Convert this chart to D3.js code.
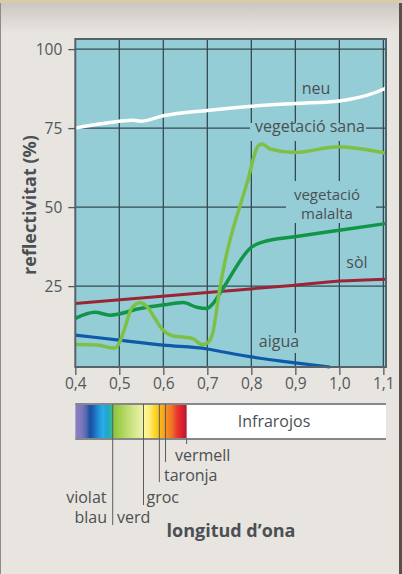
<!DOCTYPE html>
<html>
<head>
	<meta charset="utf-8">
	<title></title>
	<style type="text/css">
		body {
			margin: 0;
			background: #e8e4df;
		}
		svg {
			display: block;
			font-family: "Open Sans", sans-serif;
		}
		.txt {
			fill: #4a5053;
			font-size: 16px;
		}
	</style>
</head>
<body>
	<svg class="viz" width="402" height="574"></svg>

	<script src="https://d3js.org/d3.v7.min.js" charset="utf-8"></script>
	<script type="text/javascript">

		// data: [longitud d'ona (µm), reflectivitat (%)]
		var xTicks = [0.4, 0.5, 0.6, 0.7, 0.8, 0.9, 1.0, 1.1];
		var yTicks = [25, 50, 75, 100];

		var neu = [[0.4, 75], [0.45, 76.2], [0.5, 77.2], [0.53, 77.5], [0.55, 77.2], [0.6, 78.9], [0.7, 80.6],
			[0.8, 81.9], [0.9, 82.8], [1.0, 83.6], [1.015, 83.9], [1.1, 87.3], [1.106, 87.7]];
		var vegetacioSana = [[0.4, 6.5], [0.45, 6.4], [0.48, 5.5], [0.49, 5.4], [0.5, 7], [0.512, 11.5], [0.528, 18],
			[0.547, 19.7], [0.566, 18], [0.58, 15], [0.596, 11.6], [0.623, 9.2], [0.649, 8.8], [0.668, 8.3],
			[0.688, 6.5], [0.7, 7], [0.712, 10], [0.729, 24.8], [0.792, 58.5], [0.815, 69.3], [0.824, 70],
			[0.843, 68.4], [0.898, 67.3], [0.998, 69.1], [1.106, 67]];
		var vegetacioMalalta = [[0.4, 14.8], [0.445, 16.7], [0.479, 15.8], [0.547, 17.9], [0.598, 19], [0.645, 19.8],
			[0.676, 18.3], [0.699, 17.9], [0.71, 19], [0.733, 23.7], [0.801, 37.4], [0.827, 39], [0.898, 40.6],
			[1.0, 42.7], [1.106, 44.8]];
		var sol = [[0.4, 19.5], [0.7, 23], [0.9, 25.3], [1.0, 26.6], [1.106, 27.2]];
		var aigua = [[0.4, 9.5], [0.5, 7.9], [0.6, 6.3], [0.7, 5.1], [0.73, 4.3], [0.8, 2.6], [0.9, 0.7], [0.979, -0.6]];

		// visible spectrum band
		var spectrumWavelengths = [0.401, 0.415, 0.426, 0.433, 0.44, 0.452, 0.463, 0.47, 0.479, 0.483, 0.488, 0.501,
			0.531, 0.554, 0.556, 0.57, 0.583, 0.592, 0.604, 0.62, 0.631, 0.64, 0.653];
		var spectrumColors = ['#8b80bf', '#7c78bb', '#4d66ae', '#1d4f9e', '#1c60b0', '#1f8fd8', '#2aaee8', '#22a4d8',
			'#27b0b0', '#3bb88c', '#8cc63f', '#a3cf4f', '#d0e58a', '#eef2a6', '#fff7a0', '#ffea72', '#ffd21a',
			'#fbbd1a', '#f7971d', '#f0702a', '#e83a2e', '#e5222e', '#a61f32'];
		var spectrumEnd = 0.653;
		var colourNames = ['violat', 'blau', 'verd', 'groc', 'taronja', 'vermell'];
		var colourMarks = [0.485, 0.485, 0.485, 0.555, 0.591, 0.605];

		var canvas = d3.select('.viz');

		// frame of the figure
		var bgGrad = canvas.append('defs').append('linearGradient')
			.attr('id', 'bg').attr('x1', 0).attr('x2', 0).attr('y1', 0).attr('y2', 1);
		bgGrad.append('stop').attr('offset', 0).attr('stop-color', '#cbc7c2');
		bgGrad.append('stop').attr('offset', 1).attr('stop-color', '#e8e4df');
		canvas.append('rect').attr('x', 0).attr('y', 3).attr('width', 402).attr('height', 30).attr('fill', 'url(#bg)');
		canvas.append('rect').attr('x', 0).attr('y', 0).attr('width', 402).attr('height', 3).attr('fill', '#d8cbad');
		canvas.append('rect').attr('x', 0).attr('y', 3).attr('width', 1).attr('height', 571).attr('fill', '#8f8c88');
		canvas.append('rect').attr('x', 399).attr('y', 3).attr('width', 3).attr('height', 571).attr('fill', '#5b5048');

		var x = d3.scaleLinear().domain([0.4, 1.106]).range([75.3, 386]);
		var y = d3.scaleLinear().domain([-0.6, 103.2]).range([367, 39]);

		// plot background
		canvas.append('rect')
			.attr('x', x(0.4)).attr('y', y(103.2))
			.attr('width', x(1.106) - x(0.4)).attr('height', y(-0.6) - y(103.2))
			.attr('fill', '#95cdd6');

		// grid
		var grid = canvas.append('g').attr('stroke', '#354a50').attr('stroke-width', 1.3);
		grid.selectAll('.vg').data(xTicks.slice(1)).enter().append('line')
			.attr('x1', function(d) { return x(d); }).attr('x2', function(d) { return x(d); })
			.attr('y1', y(103.2)).attr('y2', y(-0.6));
		grid.selectAll('.hg').data(yTicks).enter().append('line')
			.attr('x1', x(0.4)).attr('x2', x(1.106))
			.attr('y1', function(d) { return y(d); }).attr('y2', function(d) { return y(d); });

		// label backgrounds that break the grid
		var cutouts = [[250, 123, 116, 18], [286, 181, 90, 42], [255, 333, 48, 20]];
		canvas.selectAll('.cut').data(cutouts).enter().append('rect')
			.attr('x', function(d) { return d[0]; }).attr('y', function(d) { return d[1]; })
			.attr('width', function(d) { return d[2]; }).attr('height', function(d) { return d[3]; })
			.attr('fill', '#95cdd6');

		// axes
		var fmt = function(d) { return d3.format('.1f')(d).replace('.', ','); };
		var xAxis = canvas.append('g').attr('transform', 'translate(0,' + y(-0.6) + ')')
			.call(d3.axisBottom(x).tickValues(xTicks).tickFormat(fmt).tickSize(8).tickPadding(3));
		var yAxis = canvas.append('g').attr('transform', 'translate(' + x(0.4) + ',0)')
			.call(d3.axisLeft(y).tickValues(yTicks).tickSize(7).tickPadding(6));
		[xAxis, yAxis].forEach(function(a) {
			a.select('.domain').remove();
			a.selectAll('line').attr('stroke', '#555b5e').attr('stroke-width', 1.3);
			a.selectAll('text').attr('fill', '#52585b').style('font-size', '15.5px').style('font-family', '"Open Sans", sans-serif');
		});

		// series
		var line = d3.line()
			.x(function(d) { return x(d[0]); })
			.y(function(d) { return y(d[1]); })
			.curve(d3.curveMonotoneX);
		var series = [
			{ data: sol, color: '#9c2434', w: 3 },
			{ data: aigua, color: '#0d5aa8', w: 3.2 },
			{ data: vegetacioMalalta, color: '#119648', w: 3.5 },
			{ data: vegetacioSana, color: '#7cc143', w: 3.5 },
			{ data: neu, color: '#ffffff', w: 3.5 }
		];
		canvas.append('g').attr('fill', 'none').selectAll('path').data(series).enter().append('path')
			.attr('d', function(d) { return line(d.data); })
			.attr('stroke', function(d) { return d.color; })
			.attr('stroke-width', function(d) { return d.w; })
			.attr('stroke-linejoin', 'round');

		// plot border
		canvas.append('rect')
			.attr('x', x(0.4)).attr('y', y(103.2))
			.attr('width', x(1.106) - x(0.4)).attr('height', y(-0.6) - y(103.2))
			.attr('fill', 'none').attr('stroke', '#56636a').attr('stroke-width', 2);

		// series labels
		var addText = function(t, tx, ty, anchor) {
			return canvas.append('text').attr('class', 'txt')
				.attr('x', tx).attr('y', ty).attr('text-anchor', anchor || 'middle').text(t);
		};
		addText('neu', 316, 94);
		addText('vegetació sana', 310, 132);
		addText('vegetació', 327, 200).style('font-size', '15px');
		addText('malalta', 327, 219).style('font-size', '15px');
		addText('sòl', 357, 268);
		addText('aigua', 279, 347);

		canvas.append('text')
			.attr('transform', 'translate(36,205) rotate(-90)')
			.attr('text-anchor', 'middle')
			.attr('fill', '#4a5053')
			.style('font-size', '18px').style('font-weight', 'bold')
			.text('reflectivitat (%)');

		// spectrum bar
		var barTop = 404, barBottom = 439;
		var spec = canvas.select('defs').append('linearGradient')
			.attr('id', 'spectrum').attr('gradientUnits', 'userSpaceOnUse')
			.attr('x1', x(spectrumWavelengths[0])).attr('x2', x(spectrumEnd)).attr('y1', 0).attr('y2', 0);
		spec.selectAll('stop').data(spectrumWavelengths).enter().append('stop')
			.attr('offset', function(d) { return (d - spectrumWavelengths[0]) / (spectrumEnd - spectrumWavelengths[0]); })
			.attr('stop-color', function(d, i) { return spectrumColors[i]; });

		canvas.append('rect').attr('x', x(0.4)).attr('y', barTop)
			.attr('width', x(1.106) - x(0.4)).attr('height', barBottom - barTop).attr('fill', '#fff');
		canvas.append('rect').attr('x', x(0.4)).attr('y', barTop)
			.attr('width', x(spectrumEnd) - x(0.4)).attr('height', barBottom - barTop).attr('fill', 'url(#spectrum)');
		canvas.append('line').attr('x1', x(0.4)).attr('x2', x(1.106)).attr('y1', barTop).attr('y2', barTop)
			.attr('stroke', '#85888a').attr('stroke-width', 2);
		canvas.append('line').attr('x1', x(0.4)).attr('x2', x(1.106)).attr('y1', barBottom).attr('y2', barBottom)
			.attr('stroke', '#85888a').attr('stroke-width', 2);
		addText('Infrarojos', 274, 427).attr('fill', '#3e4446');

		// leader lines for colour names
		var leaderEnds = { 0.485: 525, 0.555: 505, 0.591: 482, 0.605: 462 };
		var marks = Array.from(new Set(colourMarks));
		canvas.selectAll('.lead').data(marks).enter().append('line')
			.attr('x1', function(d) { return x(d); }).attr('x2', function(d) { return x(d); })
			.attr('y1', barTop).attr('y2', function(d) { return leaderEnds[d]; })
			.attr('stroke', '#5a5c5e').attr('stroke-width', 1);
		canvas.append('line').attr('x1', x(spectrumEnd)).attr('x2', x(spectrumEnd))
			.attr('y1', barBottom).attr('y2', 444).attr('stroke', '#5a5c5e').attr('stroke-width', 1);

		addText(colourNames[0], 106.5, 503, 'end');
		addText(colourNames[1], 107, 523, 'end');
		addText(colourNames[2], 117, 523, 'start');
		addText(colourNames[3], 146.5, 503, 'start');
		addText(colourNames[4], 164, 481, 'start');
		addText(colourNames[5], 175, 461, 'start');

		canvas.append('text')
			.attr('x', 231).attr('y', 537).attr('text-anchor', 'middle')
			.attr('fill', '#4a5053')
			.style('font-size', '18px').style('font-weight', 'bold')
			.text('longitud d’ona');

	</script>
</body>
</html>
